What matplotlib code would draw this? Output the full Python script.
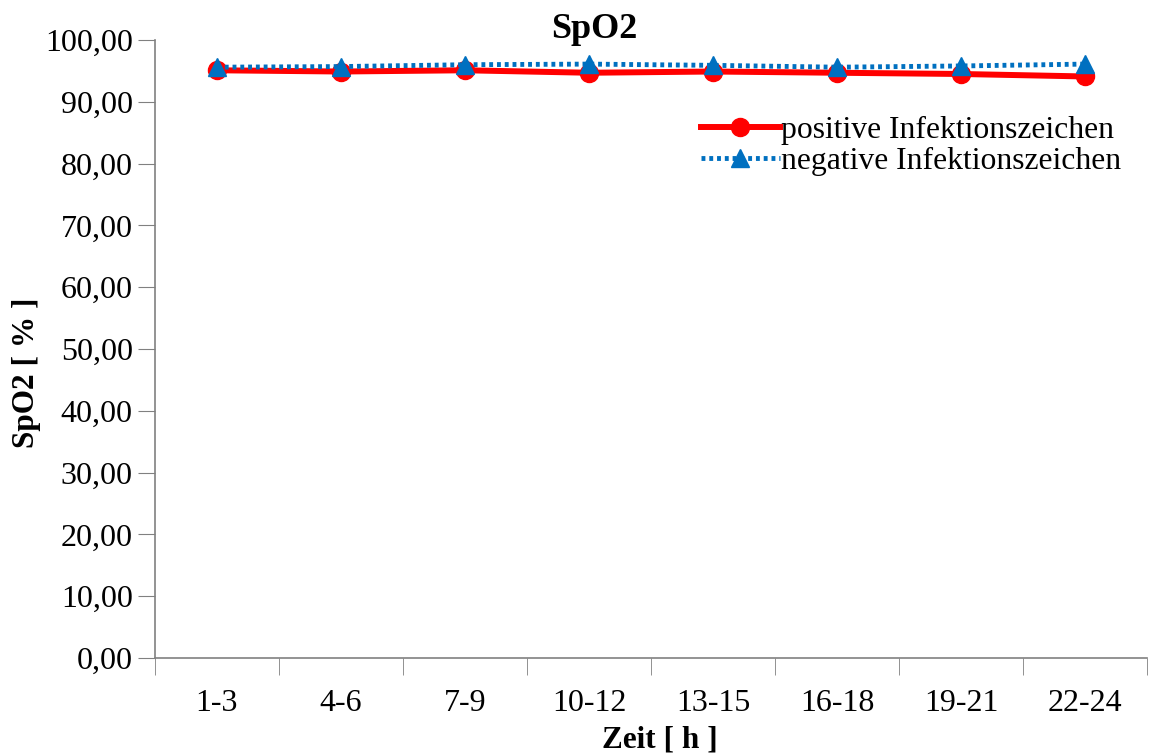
import matplotlib.pyplot as plt
from matplotlib.ticker import FuncFormatter, FixedLocator

plt.rcParams['font.family'] = ['Liberation Serif', 'DejaVu Serif']

zeit = ['1-3', '4-6', '7-9', '10-12', '13-15', '16-18', '19-21', '22-24']
positiv = [95.1, 94.9, 95.1, 94.7, 94.9, 94.7, 94.5, 94.1]
negativ = [95.6, 95.7, 96.0, 96.1, 95.9, 95.6, 95.8, 96.1]

fig = plt.figure(figsize=(11.49, 7.56), dpi=100)
ax = fig.add_axes([155 / 1149, 1 - 658 / 756, 992 / 1149, 618 / 756])

x = range(len(zeit))
ax.plot(x, positiv, color='#ff0000', lw=4.3, marker='o', ms=13,
        label='positive Infektionszeichen')
ax.plot(x, negativ, color='#0070c0', lw=3.5, ls=(0, (0.8, 0.8)), marker='^', ms=13,
        label='negative Infektionszeichen')

ax.set_xlim(-0.5, 7.5)
ax.set_ylim(0, 100)
ax.set_yticks(range(0, 101, 10))
ax.yaxis.set_major_formatter(FuncFormatter(lambda v, p: f'{v:.2f}'.replace('.', ',')))
ax.set_xticks(list(x))
ax.set_xticklabels(zeit)
ax.xaxis.set_minor_locator(FixedLocator([i - 0.5 for i in range(len(zeit) + 1)]))
ax.tick_params(axis='x', which='major', length=0, labelsize=23, pad=22)
ax.tick_params(axis='x', which='minor', length=12, color='#808080', direction='out')
ax.tick_params(axis='y', labelsize=23, length=12, color='#808080', direction='out', pad=4)

for s in ['top', 'right']:
    ax.spines[s].set_visible(False)
for s in ['left', 'bottom']:
    ax.spines[s].set_color('#808080')
    ax.spines[s].set_linewidth(1.2)

fig.text(594 / 1149, 1 - 30 / 756, 'SpO2', fontsize=26, fontweight='bold',
         ha='center', va='center')
fig.text(660 / 1149, 1 - 740 / 756, 'Zeit [ h ]', fontsize=22.5, fontweight='bold',
         ha='center', va='center')
fig.text(27 / 1149, 1 - 373 / 756, 'SpO2 [ % ]', fontsize=22.5, fontweight='bold',
         ha='center', va='center', rotation=90)

ax.legend(loc='upper left', bbox_to_anchor=(533 / 992, 1 - 63 / 618), frameon=False,
          fontsize=22.8, handlelength=2.5, handletextpad=0.05, labelspacing=0.06,
          borderaxespad=0)

fig.savefig('out.png', dpi=100)
